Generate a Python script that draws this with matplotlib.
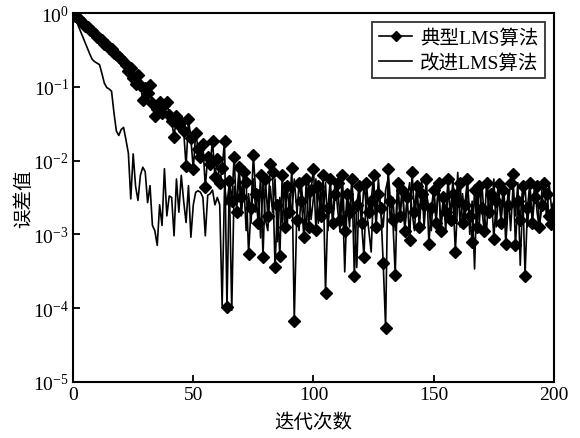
import numpy as np
import matplotlib
matplotlib.use("Agg")
import matplotlib.pyplot as plt

plt.rcParams['font.family'] = ['Liberation Serif', 'Noto Sans CJK SC', 'DejaVu Sans']
plt.rcParams['mathtext.fontset'] = 'stix'

#DATA (error, stored as log10 of the error)
iterations = list(range(201))

typical_log10 = [
    0.00, -0.04, -0.07, -0.10, -0.13, -0.17, -0.19, -0.23, -0.25, -0.29,
    -0.32, -0.35, -0.37, -0.42, -0.44, -0.47, -0.49, -0.54, -0.55, -0.60,
    -0.62, -0.66, -0.70, -0.78, -0.74, -0.88, -0.96, -0.84, -0.98, -1.18,
    -1.02, -1.08, -0.98, -1.22, -1.40, -1.30, -1.20, -1.35, -1.25, -1.20,
    -1.38, -1.46, -1.68, -1.40, -1.52, -1.48, -1.60, -2.08, -1.44, -1.70,
    -2.12, -1.62, -1.85, -1.95, -1.78, -2.36, -1.95, -2.05, -1.73, -2.22,
    -1.98, -2.30, -2.10, -1.73, -3.99, -2.28, -2.55, -1.95, -2.70, -2.09,
    -2.50, -2.15, -2.29, -3.27, -2.65, -1.93, -2.45, -2.85, -2.20, -3.31,
    -2.25, -2.75, -2.05, -2.16, -3.45, -2.60, -3.30, -2.20, -2.90, -2.35,
    -2.70, -2.10, -4.17, -2.80, -2.30, -2.55, -3.04, -2.25, -2.90, -2.40,
    -2.11, -2.94, -2.35, -2.75, -2.20, -3.79, -2.65, -2.25, -2.85, -2.45,
    -2.30, -2.80, -2.20, -2.95, -2.45, -2.70, -2.25, -3.57, -2.60, -2.35,
    -2.85, -3.31, -2.30, -2.70, -2.55, -2.20, -2.90, -2.45, -2.65, -3.39,
    -4.27, -2.11, -2.55, -2.80, -3.55, -2.30, -2.75, -2.40, -2.95, -2.50,
    -3.08, -2.16, -2.70, -2.35, -2.90, -2.45, -2.60, -2.25, -3.13, -2.65,
    -2.40, -2.85, -2.30, -2.95, -2.50, -2.70, -2.25, -2.80, -2.45, -3.24,
    -2.55, -2.30, -2.85, -2.60, -2.25, -2.75, -3.11, -2.40, -2.90, -2.35,
    -2.65, -2.95, -2.30, -2.70, -2.45, -3.06, -2.55, -2.32, -2.85, -2.40,
    -3.13, -2.60, -2.30, -2.18, -3.15, -2.55, -2.80, -2.35, -3.56, -2.65,
    -2.30, -2.85, -2.50, -2.35, -2.90, -2.60, -2.30, -2.45, -2.75, -2.86,
    -2.68,
]

improved_log10 = [
    0.00, -0.08, -0.16, -0.24, -0.32, -0.40, -0.48, -0.56, -0.63, -0.66,
    -0.68, -0.70, -0.82, -0.95, -1.01, -1.03, -1.06, -1.35, -1.60, -1.66,
    -1.58, -1.55, -1.72, -1.90, -2.52, -1.91, -2.35, -2.54, -2.20, -2.09,
    -2.15, -2.57, -2.34, -2.88, -2.95, -3.15, -2.60, -2.88, -2.11, -2.75,
    -2.48, -2.50, -3.02, -2.25, -2.70, -2.20, -2.55, -2.84, -2.34, -3.04,
    -2.60, -2.43, -2.41, -2.43, -2.50, -3.02, -2.47, -2.45, -2.40, -2.60,
    -2.50, -2.60, -3.97, -2.35, -2.60, -2.30, -4.03, -2.35, -2.60, -2.20,
    -2.75, -2.30, -2.95, -2.45, -2.85, -2.25, -2.70, -2.40, -3.05, -2.30,
    -2.80, -2.95, -2.35, -2.70, -2.25, -3.10, -2.50, -2.85, -2.30, -2.90,
    -2.45, -2.75, -2.25, -2.65, -2.95, -2.35, -2.70, -2.90, -2.30, -2.80,
    -2.50, -2.25, -2.85, -2.40, -2.75, -2.30, -2.95, -2.45, -2.80, -2.25,
    -2.65, -2.95, -2.40, -3.51, -2.55, -2.90, -2.30, -2.75, -3.45, -2.40,
    -2.85, -2.30, -2.65, -2.95, -3.24, -2.35, -2.80, -2.25, -2.70, -2.90,
    -2.40, -2.25, -2.85, -2.50, -2.95, -2.35, -2.75, -2.30, -2.90, -2.50,
    -2.30, -2.70, -2.95, -2.40, -2.80, -2.25, -2.90, -2.45, -2.65, -2.95,
    -2.35, -2.80, -2.30, -2.90, -2.50, -2.95, -2.35, -2.75, -2.25, -2.85,
    -2.16, -2.90, -2.45, -2.80, -2.30, -3.00, -2.55, -3.47, -2.40, -2.85,
    -2.30, -2.75, -2.95, -2.40, -2.70, -2.25, -2.90, -2.45, -2.80, -2.30,
    -2.85, -2.40, -2.95, -2.35, -2.75, -2.30, -3.42, -2.55, -2.35, -2.90,
    -2.45, -2.80, -2.30, -2.70, -2.95, -2.40, -2.35, -2.80, -2.30, -2.65,
    -2.55,
]

series_labels = ['典型LMS算法', '改进LMS算法']
x_ticks = [0, 50, 100, 150, 200]
y_ticks = [1e-5, 1e-4, 1e-3, 1e-2, 1e-1, 1e0]

#FIGURE
fig = plt.figure(figsize=(5.8, 4.39), dpi=100)
ax = fig.add_axes([0.126, 0.128, 0.829, 0.840])

ax.semilogy(iterations, 10.0 ** np.array(typical_log10), color='black',
            linewidth=1.2, marker='D', markersize=6.5, label=series_labels[0])
ax.semilogy(iterations, 10.0 ** np.array(improved_log10), color='black',
            linewidth=1.2, label=series_labels[1])

ax.set_xlim(0, 200)
ax.set_ylim(1e-5, 1e0)
ax.set_xticks(x_ticks)
ax.set_yticks(y_ticks)
ax.yaxis.set_minor_locator(matplotlib.ticker.NullLocator())
ax.tick_params(direction='in', length=5, width=1.3, labelsize=14,
               top=False, right=False, pad=3)
for s in ax.spines.values():
    s.set_linewidth(1.5)

ax.set_xlabel('迭代次数', fontsize=14, labelpad=7)
ax.set_ylabel('误差值', fontsize=14, labelpad=0)

leg = ax.legend(loc='upper right', fontsize=14, frameon=True, fancybox=False,
                edgecolor='black', handlelength=1.7, borderpad=0.35,
                labelspacing=0.3, handletextpad=0.4, borderaxespad=0.45)
leg.get_frame().set_linewidth(1.3)
for h in leg.legend_handles:
    h.set_markersize(5.5)

fig.savefig('out.png', dpi=100)
